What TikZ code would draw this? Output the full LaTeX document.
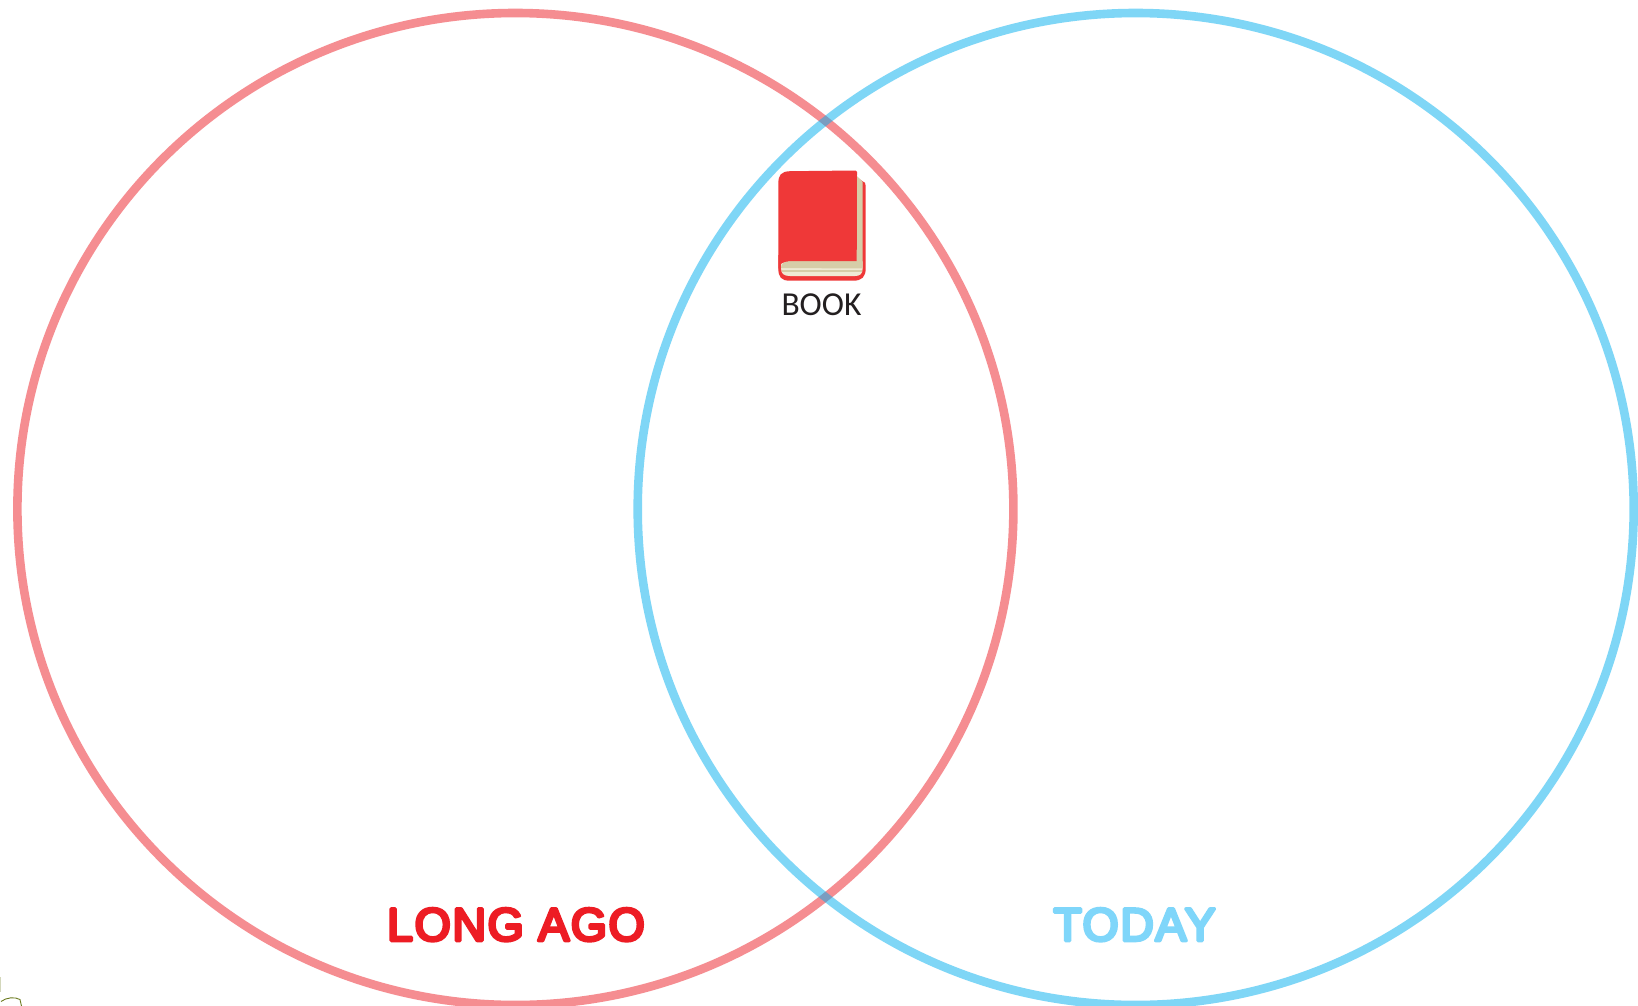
\documentclass[tikz,border=0pt]{standalone}
\usepackage{fontspec}
\setmainfont{Liberation Sans}
\newfontfamily\labelfont[LetterSpace=3.4]{Liberation Sans}
\newfontfamily\booklabel{Carlito}
\definecolor{ringred}{HTML}{ED1C24}
\definecolor{ringblue}{HTML}{00AEEF}
\definecolor{todayblue}{HTML}{7FD6FA}
\definecolor{coverred}{HTML}{EF3838}
\definecolor{pagedark}{HTML}{D6CDA8}
\definecolor{pagelight}{HTML}{EFEAD4}
\definecolor{inkdark}{HTML}{231F20}
\definecolor{olive}{HTML}{6B7A1E}
\newcommand{\roundstroke}{\special{pdf:code 1 j 1 J 2 Tr 3.1 w}}
\tikzset{
  ring/.style={line width=8.6pt,draw opacity=0.5},
  biglabel/.style={font=\labelfont\fontsize{46.5}{46.5}\selectfont,inner sep=0pt,anchor=base},
}
\begin{document}
\begin{tikzpicture}[x=1pt,y=-1pt,line join=round]
\useasboundingbox (0,0) rectangle (1638,1006);
\clip (0,0) rectangle (1638,1006);
\fill[white] (0,0) rectangle (1638,1006);
% rings
\draw[ring,draw=ringred] (515.4,509) ellipse [x radius=498,y radius=496];
\draw[ring,draw=ringblue] (1135.7,509) ellipse [x radius=498,y radius=496];
% book: back cover
\fill[coverred] (778.3,255) -- (778.3,268) .. controls (778.3,277) and (781,280.7) .. (790,280.7)
  -- (853,280.7) .. controls (862,280.7) and (865.7,277) .. (865.7,268) -- (865.7,186)
  .. controls (865.7,183) and (865,182) .. (862,181) -- (858,178) -- (850,255) -- cycle;
% pages on the right
\fill[pagedark] (856,175) -- (862.7,182) -- (862.7,262) -- (856,264) -- cycle;
% pages at the bottom
\fill[pagelight] (781,262) -- (862.7,262) -- (862.7,268) .. controls (862.7,274) and (860,276) .. (855,276)
  -- (790,276) .. controls (784,276) and (781,274) .. (781,268) -- cycle;
\fill[pagedark] (781,268) .. controls (781,264) and (784,261) .. (790,261) -- (862.7,261) -- (862.7,268.5) -- cycle;
\fill[pagedark] (782,270.3) -- (862,270.3) -- (862,271.5) -- (782,271.5) -- cycle;
% front cover
\fill[coverred] (778.3,184) .. controls (778.3,175) and (781,171.5) .. (790,171.2)
  -- (855.5,170.5) .. controls (856.5,170.5) and (857,171) .. (857,172) -- (856.7,261) -- (790,261)
  .. controls (784,261) and (778.3,264) .. (778.3,270) -- cycle;
\node[font=\booklabel\fontsize{33.5}{33.5}\selectfont,text=inkdark,inner sep=0pt,anchor=base] (book) at (821.5,315) {BOOK};
% captions
\node[biglabel,text=ringred] (longago) at (516,940.7) {\roundstroke LONG AGO};
\node[biglabel,text=todayblue] (today) at (1134.5,940.7) {\roundstroke TODAY};
% stray marks in the corner
\draw[olive,line width=0.9pt] (1,1001.5) .. controls (6,997.5) and (15,996.5) .. (20,999.5) -- (21.5,1006);
\draw[olive!30,line width=1.2pt] (0.4,977) -- (0.4,992);
\end{tikzpicture}
\end{document}
